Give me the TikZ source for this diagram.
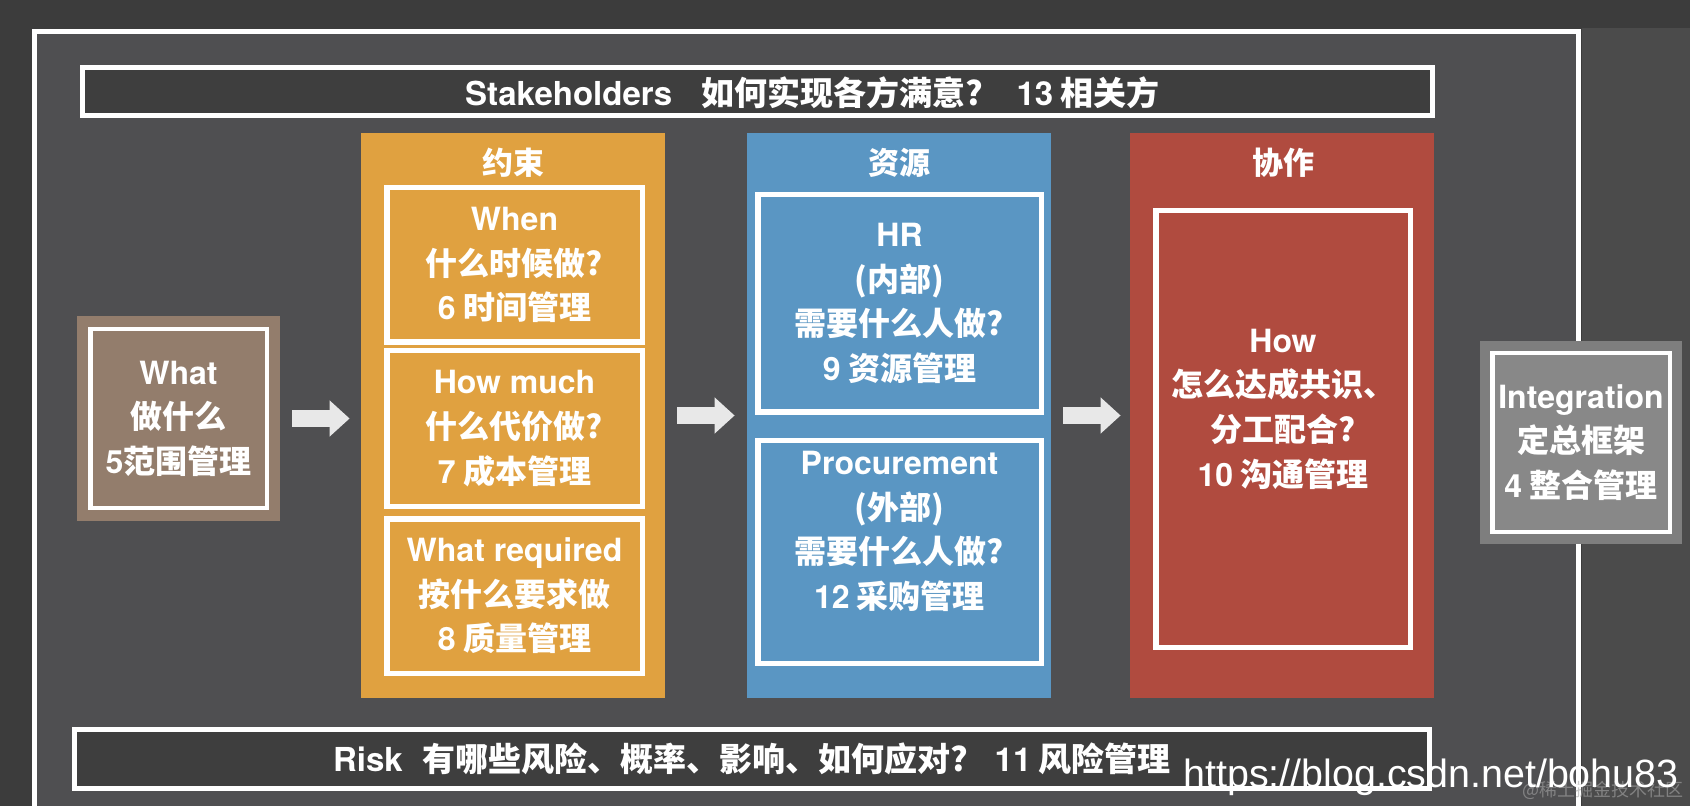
\documentclass[tikz,border=0pt]{standalone}
\usepackage{fontspec}
\setmainfont{Noto Sans CJK SC}
\newfontfamily\heros{TeX Gyre Heros}
\newfontfamily\liber{Liberation Sans}
\usepackage{tikz}
\usetikzlibrary{arrows.meta,positioning}
\definecolor{bgdark}{HTML}{3C3C3C}
\definecolor{bgmid}{HTML}{4B4B4B}
\definecolor{panel}{HTML}{4F4F51}
\definecolor{bardark}{HTML}{3E3E3E}
\definecolor{consorange}{HTML}{E0A140}
\definecolor{resblue}{HTML}{5A96C3}
\definecolor{coopred}{HTML}{B04B3F}
\definecolor{whatbrown}{HTML}{937D6C}
\definecolor{intgray}{HTML}{7E7E7E}
\definecolor{intgrayin}{HTML}{888888}
\definecolor{arrowgray}{HTML}{E8E8E8}
\newcommand{\en}[1]{{\heros #1}}

\begin{document}
\begin{tikzpicture}[
  x=1pt,y=-1pt,
  txt/.style={text=white,align=center,inner sep=0pt,
              font=\bfseries\fontsize{16pt}{22.3pt}\selectfont},
  bar/.style={txt,draw=white,line width=2.5pt,fill=bardark,
              font=\bfseries\fontsize{16.5pt}{20pt}\selectfont},
  col/.style={minimum width=152pt,minimum height=282.5pt,inner sep=0pt},
  title/.style={txt,font=\bfseries\fontsize{15.5pt}{18pt}\selectfont},
  sub/.style={txt,draw=white,line width=2.75pt},
  side/.style={sub,line width=2.25pt,minimum height=89.25pt},
  flow/.style={arrowgray,line width=8.5pt,-{Triangle[length=10pt,width=17.5pt]}}
]
\useasboundingbox (0,0) rectangle (845,403);
% background and frame
\fill[bgdark] (0,0) rectangle (845,403);
\fill[bgmid] (791,14) rectangle (845,403);
\draw[white,line width=2.5pt,fill=panel] (17,15.75) rectangle (789.25,420);

\node[bar,minimum width=675pt,minimum height=24pt] (stake) at (378.75,45.75) {};
\node[txt,font=\bfseries\fontsize{16.5pt}{20pt}\selectfont] (stake-t) at (406.25,46.5)
  {\en{Stakeholders}\hspace{0.9em}如何实现各方满意?\hspace{1em}\en{13} 相关方};

% constraints
\node[col,fill=consorange] (cons) at (256.5,207.75) {};
\node[title] (cons-t) at (256.5,81.5) {约束};
\node[sub,minimum width=127.75pt,minimum height=77.25pt] (when) at (257.25,132.5)
  {\en{When}\\什么时候做?\\\en{6} 时间管理};
\node[sub,minimum width=127.75pt,minimum height=77.75pt] (much) at (257.25,214.25)
  {\en{How much}\\什么代价做?\\\en{7} 成本管理};
\node[sub,minimum width=127.75pt,minimum height=77.25pt] (qual) at (257.25,298)
  {\en{What required}\\按什么要求做\\\en{8} 质量管理};

% resources
\node[col,fill=resblue] (res) at (449.5,207.75) {};
\node[title] (res-t) at (449.5,81.5) {资源};
\node[sub,minimum width=141.75pt,minimum height=108.75pt] (hr) at (449.75,151.75)
  {\en{HR}\\(内部)\\需要什么人做?\\\en{9} 资源管理};
\node[sub,minimum width=141.75pt,minimum height=111.25pt] (proc) at (449.75,276) {};
\node[txt] (proc-t) at (449.75,265.75)
  {\en{Procurement}\\(外部)\\需要什么人做?\\\en{12} 采购管理};

% cooperation
\node[col,fill=coopred] (coop) at (641,207.75) {};
\node[title] (coop-t) at (641.5,81.5) {协作};
\node[sub,minimum width=127.25pt,minimum height=218.25pt] (how) at (641.5,214.5) {};
\node[txt] (how-t) at (641.5,204.5)
  {\en{How}\\怎么达成共识、\\分工配合?\\\en{10} 沟通管理};

% scope and integration
\node[side,fill=whatbrown,preaction={draw=whatbrown,line width=13.25pt},
      minimum width=88.25pt] (what) at (89.25,209.25)
  {\en{What}\\做什么\\\en{5}范围管理};
\node[side,fill=intgrayin,preaction={draw=intgray,line width=12.25pt},
      minimum width=88.75pt] (integ) at (790.5,221.25)
  {\en{Integration}\\定总框架\\\en{4} 整合管理};

\draw[flow] ([xshift=11.5pt]what.east) -- ([xshift=-5.5pt]what.east -| cons.west);
\draw[flow] ([xshift=6pt]cons.east) -- ([xshift=-6pt]res.west);
\draw[flow] ([xshift=6pt]res.east) -- ([xshift=-4.5pt]coop.west);

\node[bar,minimum width=677.5pt,minimum height=29.5pt] (risk) at (376,379.5)
  {\en{Risk}\hspace{0.6em}有哪些风险、概率、影响、如何应对?\hspace{0.8em}\en{11} 风险管理};

% watermarks
\node[anchor=west,inner sep=0pt,text=gray!70,opacity=0.6,
      font=\fontsize{9pt}{10pt}\selectfont] (mark) at (761,395) {@稀土掘金技术社区};
\node[anchor=base west,inner sep=0pt,text=white,
      font=\liber\fontsize{19.7pt}{22pt}\selectfont] (url) at (591.5,393.5)
  {https://blog.csdn.net/bohu83};
\end{tikzpicture}
\end{document}
